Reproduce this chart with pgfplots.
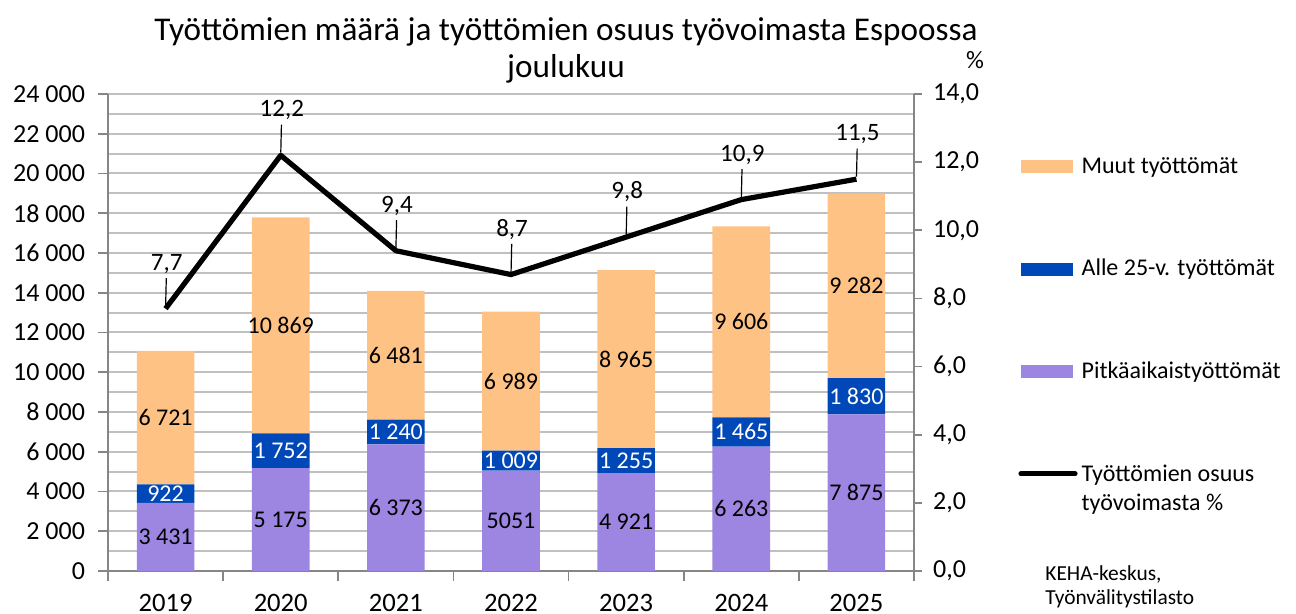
\documentclass[border=0pt]{standalone}
\usepackage{pgfplots}
\usepackage{pgfplotstable}
\pgfplotsset{compat=1.18}
\usepackage{fontspec}
\setmainfont{Carlito}
\definecolor{cmuut}{RGB}{255,194,133}
\definecolor{calle}{RGB}{0,72,184}
\definecolor{cpitka}{RGB}{157,134,226}
\definecolor{gridc}{RGB}{192,192,192}
\definecolor{axc}{RGB}{134,134,134}

\pgfplotstableread{
x pitka alle muut
0 3431 922 6721
1 5175 1752 10869
2 6373 1240 6481
3 5051 1009 6989
4 4921 1255 8965
5 6263 1465 9606
6 7875 1830 9282
}\bars

\pgfplotstableread{
x ym lab
0 1715.5 {3 431}
1 2587.5 {5 175}
2 3186.5 {6 373}
3 2525.5 {5051}
4 2460.5 {4 921}
5 3131.5 {6 263}
6 3937.5 {7 875}
}\lpitka

\pgfplotstableread{
x ym lab
0 3892 {922}
1 6051 {1 752}
2 6993 {1 240}
3 5555.5 {1 009}
4 5548.5 {1 255}
5 6995.5 {1 465}
6 8790 {1 830}
}\lalle

\pgfplotstableread{
x ym lab
0 7713.5 {6 721}
1 12361.5 {10 869}
2 10853.5 {6 481}
3 9554.5 {6 989}
4 10658.5 {8 965}
5 12531 {9 606}
6 14346 {9 282}
}\lmuut

\pgfplotstableread{
x rate lab
0 7.7 {7,7}
1 12.2 {12,2}
2 9.4 {9,4}
3 8.7 {8,7}
4 9.8 {9,8}
5 10.9 {10,9}
6 11.5 {11,5}
}\rate

\pgfplotsset{
  base/.style={scale only axis, width=403pt, height=238.5pt,
    xmin=-0.5, xmax=6.5, at={(54pt,21.5pt)}, anchor=south west},
  barleg/.style={legend image code/.code={\fill[##1] (0pt,-3.25pt) rectangle (26pt,3.25pt);}},
  lineleg/.style={legend image code/.code={\draw[##1] (0pt,7.5pt) -- (27pt,7.5pt);}},
}

\begin{document}
\begin{tikzpicture}
\useasboundingbox (0,0) rectangle (648pt,307pt);
% horizontal grid lines (every 1 000)
\begin{axis}[base, ymin=0, ymax=24000, hide axis, clip=false]
\pgfplotsinvokeforeach{0,1000,2000,3000,4000,5000,6000,7000,8000,9000,10000,11000,12000,13000,14000,15000,16000,17000,18000,19000,20000,21000,22000,23000,24000}{
  \addplot[draw=gridc, line width=1pt, mark=none, forget plot] coordinates {(-0.5,#1) (6.5,#1)};
}
\end{axis}
% bars
\begin{axis}[base, ymin=0, ymax=24000, ybar stacked, bar width=28.8pt,
  axis y line*=left, axis x line*=bottom,
  axis line style={axc, line width=0.9pt},
  ytick={0,2000,...,24000},
  tick align=outside, major tick length=5pt,
  y tick style={axc, line width=0.9pt},
  scaled y ticks=false,
  /pgf/number format/assume math mode=true,
  yticklabel style={font=\fontsize{13}{15}\selectfont, xshift=-3pt,
    /pgf/number format/.cd, fixed, precision=0, 1000 sep={\ }},
  xtick={-0.5,0.5,...,6.5}, xticklabels={},
  x tick style={axc, line width=0.9pt},
  extra x ticks={0,1,2,3,4,5,6},
  extra x tick labels={2019,2020,2021,2022,2023,2024,2025},
  extra x tick style={major tick length=0pt,
     xticklabel style={font=\fontsize{13.3}{15}\selectfont, yshift=-8pt}},
  reverse legend,
  legend style={at={(rel axis cs:1,1)}, anchor=north west, xshift=52pt, yshift=-29.5pt,
     draw=none, fill=none, inner sep=0pt, row sep=37.5pt,
     font=\fontsize{12}{14.5}\selectfont, cells={anchor=west, align=left}},
  legend cell align=left,
]
\addlegendimage{lineleg, black, line width=2.6pt, line cap=round}
\addlegendentry{Työttömien osuus\\työvoimasta \%}
\addplot[fill=cpitka, draw=none, barleg] table[x=x, y=pitka]{\bars};
\addlegendentry{Pitkäaikaistyöttömät}
\addplot[fill=calle, draw=none, barleg] table[x=x, y=alle]{\bars};
\addlegendentry{Alle 25-v. työttömät}
\addplot[fill=cmuut, draw=none, barleg] table[x=x, y=muut]{\bars};
\addlegendentry{Muut työttömät}
\end{axis}
% bar labels
\begin{axis}[base, ymin=0, ymax=24000, hide axis]
\addplot[draw=none, mark=none, point meta=explicit symbolic, nodes near coords,
  every node near coord/.append style={anchor=center, font=\fontsize{12}{14}\selectfont, text=black}]
  table[x=x, y=ym, meta=lab]{\lpitka};
\addplot[draw=none, mark=none, point meta=explicit symbolic, nodes near coords,
  every node near coord/.append style={anchor=center, font=\fontsize{12}{14}\selectfont, text=white}]
  table[x=x, y=ym, meta=lab]{\lalle};
\addplot[draw=none, mark=none, point meta=explicit symbolic, nodes near coords,
  every node near coord/.append style={anchor=center, font=\fontsize{12}{14}\selectfont, text=black}]
  table[x=x, y=ym, meta=lab]{\lmuut};
\end{axis}
% rate line
\begin{axis}[base, ymin=0, ymax=14, axis y line*=right, axis x line=none,
  axis line style={axc, line width=0.9pt},
  ytick={0,2,...,14}, tick align=outside, major tick length=4pt,
  y tick style={axc, line width=0.9pt},
  /pgf/number format/assume math mode=true,
  yticklabel style={font=\fontsize{13}{15}\selectfont, xshift=2pt,
    /pgf/number format/.cd, fixed, fixed zerofill, precision=1, use comma},
  clip=false,
]
\addplot[black, line width=2.6pt, line join=round, mark=none,
  point meta=explicit symbolic, nodes near coords={},
  every node near coord/.append style={anchor=center, inner sep=0pt, minimum size=0pt,
    pin={[pin distance=14pt, pin edge={black, line width=0.6pt}, inner sep=1pt,
          font=\fontsize{12.5}{14}\selectfont]88:\pgfplotspointmeta}}]
  table[x=x, y=rate, meta=lab]{\rate};
\node[font=\fontsize{12.5}{14}\selectfont] at (rel axis cs:1,1) [xshift=30.5pt, yshift=17pt] {\%};
\node[align=center, font=\fontsize{16.6}{18.5}\selectfont] at (rel axis cs:0.5,1) [xshift=27.5pt, yshift=22pt]
  {Työttömien määrä ja työttömien osuus työvoimasta Espoossa\\joulukuu};
\node[anchor=north west, align=left, inner sep=0pt, font=\fontsize{10.7}{12}\selectfont]
  at (rel axis cs:1,0) [xshift=65.5pt, yshift=3pt] {KEHA-keskus,\\Työnvälitystilasto};
\end{axis}
\end{tikzpicture}
\end{document}
